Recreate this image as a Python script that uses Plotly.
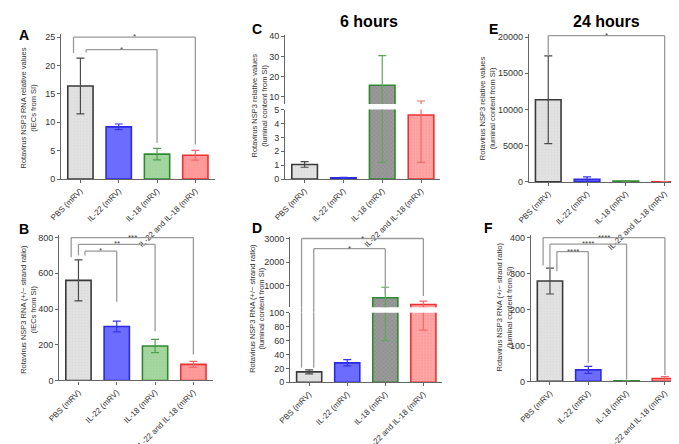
import plotly.graph_objects as go

# ---------------- data ----------------
categories = ["PBS (mRV)", "IL-22 (mRV)", "IL-18 (mRV)", "IL-22 and IL-18 (mRV)"]

a_mean = [16.4, 9.2, 4.4, 4.2]
a_err = [4.9, 0.5, 1.0, 0.85]
b_mean = [560, 302, 193, 90]
b_err = [115, 30, 37, 17]
c_mean = [1.05, 0.1, 15.8, 4.6]
c_err = [0.2, 0.03, 14.6, 3.4]
d_mean = [15, 28, 500, 215]
d_err = [3, 4.5, 440, 140]
e_mean = [11350, 350, 100, 20]
e_err = [6050, 350, 50, 15]
f_mean = [279, 32, 1.5, 8]
f_err = [36, 10, 0.8, 5.5]

a_ticks = [0, 5, 10, 15, 20, 25]
b_ticks = [0, 200, 400, 600, 800]
c_ticks_low = [0, 1, 2, 3, 4, 5]
c_ticks_high = [10, 20, 30, 40]
d_ticks_low = [0, 20, 40, 60, 80, 100]
d_ticks_high = [1000, 2000, 3000]
e_ticks = [0, 5000, 10000, 15000, 20000]
f_ticks = [0, 100, 200, 300, 400]

# significance brackets: (from, to, bracket height, from-end, to-end, label)
a_sig = [(0, 3, 25.0, 22.2, 6.1, "*"), (0, 2, 22.8, 22.3, 6.4, "*")]
b_sig = [(0, 3, 800, 690, 145, "***"), (0, 2, 762, 700, 275, "**"), (0, 1, 724, 700, 440, "*")]
d_sig = [(0, 3, 3000, 21, 570, "*"), (0, 2, 2570, 21, 660, "*")]
e_sig = [(0, 3, 20200, 17400, 200, "*")]
f_sig = [(0, 3, 400, 322, 18, "****"), (0, 2, 382, 310, 5, "****"), (0, 1, 361, 306, 52, "****")]

y_title_rel_iec = "Rotavirus NSP3 RNA relative values<br>(IECs from SI)"
y_title_ratio_iec = "Rotavirus NSP3 RNA (+/\u2212 strand ratio)<br>(IECs from SI)"
y_title_rel_lum = "Rotavirus NSP3 relative values<br>(luminal content from SI)"
y_title_ratio_lum = "Rotavirus NSP3 RNA (+/\u2212 strand ratio)<br>(luminal content from SI)"

# ---------------- styles ----------------
W, H = 679, 444
FONT = "Liberation Sans, Arial, sans-serif"


def fx(px):
    return px / W


def fy(py):
    return 1 - py / H


style_std = [
    dict(fill="#e3e3e3", fg="#cdcdcd", shape="+", border="#3a3a3a", err="#4a4a4a"),
    dict(fill="#6c6cff", fg="#6c6cff", shape="", border="#2a2ae0", err="#3535e5"),
    dict(fill="#a6d7a1", fg="#8fc88a", shape="+", border="#2f8a2f", err="#4f9f4f"),
    dict(fill="#ff9c9c", fg="#ff8a8a", shape="+", border="#ee3030", err="#f06a6a"),
]
style_6h = [
    style_std[0],
    style_std[1],
    dict(fill="#9a9a9a", fg="#747474", shape="x", border="#2f8a2f", err="#5aa85a"),
    dict(fill="#ff9c9c", fg="#ffc0c0", shape=".", border="#ee3030", err="#f06a6a"),
]

BAR_W = 0.66
traces = []


def add_bars(means, errs, xa, ya, styles):
    for i, cat in enumerate(categories):
        s = styles[i]
        traces.append(go.Bar(
            x=[i], y=[means[i]], width=BAR_W, xaxis=xa, yaxis=ya,
            marker=dict(color=s["fill"], line=dict(color=s["border"], width=1.6),
                        pattern=dict(shape=s["shape"], fgcolor=s["fg"], bgcolor=s["fill"],
                                     size=3, solidity=0.3)),
            error_y=dict(type="data", array=[errs[i]], visible=True, color=s["err"],
                         thickness=1.2, width=4),
            showlegend=False, hoverinfo="skip", name=cat,
        ))


add_bars(a_mean, a_err, "x", "y", style_std)
add_bars(b_mean, b_err, "x2", "y2", style_std)
add_bars(c_mean, c_err, "x3", "y3", style_6h)
add_bars(c_mean, c_err, "x3", "y4", style_6h)
add_bars(d_mean, d_err, "x4", "y5", style_6h)
add_bars(d_mean, d_err, "x4", "y6", style_6h)
add_bars(e_mean, e_err, "x5", "y7", style_std)
add_bars(f_mean, f_err, "x6", "y8", style_std)

fig = go.Figure(traces)

axis_common = dict(showline=True, linecolor="#666666", linewidth=1.2, ticks="outside",
                   ticklen=3, tickcolor="#666666", showgrid=False, zeroline=False,
                   tickfont=dict(family=FONT, size=9, color="#333333"))


def xaxis(dom, anchor):
    return dict(axis_common, domain=[fx(dom[0]), fx(dom[1])], anchor=anchor,
                range=[-0.5, 3.5], tickvals=list(range(len(categories))),
                ticktext=categories, tickangle=-45,
                tickfont=dict(family=FONT, size=8, color="#333333"))


def yaxis(dom, anchor, rng, ticks):
    return dict(axis_common, domain=[fy(dom[0]), fy(dom[1])], anchor=anchor,
                range=rng, tickvals=ticks, tickformat="d")


# panel geometry (pixels)
A_x, A_y = (42, 198), (179, 22.3)
B_x, B_y = (40, 196), (396, 239.1)
C_x, C_ylow, C_yhigh = (270, 428), (179, 104), (98.1, 23.9)
D_x, D_ylow, D_yhigh = (275, 430), (398, 323), (317, 241.5)
E_x, E_y = (518, 676), (182, 22.9)
F_x, F_y = (520, 676), (397, 238.9)

C_low_rng, C_high_rng = [0, 5], [6.5, 40.5]
D_low_rng, D_high_rng = [0, 100], [100, 3060]

fig.update_layout(
    width=W, height=H, autosize=False,
    margin=dict(l=0, r=0, t=0, b=0),
    paper_bgcolor="white", plot_bgcolor="white",
    barmode="overlay",
    font=dict(family=FONT),
    xaxis=xaxis(A_x, "y"),
    yaxis=yaxis(A_y, "x", [0, 25.6], a_ticks),
    xaxis2=xaxis(B_x, "y2"),
    yaxis2=yaxis(B_y, "x2", [0, 815], b_ticks),
    xaxis3=xaxis(C_x, "y3"),
    yaxis3=yaxis(C_ylow, "x3", C_low_rng, c_ticks_low),
    yaxis4=yaxis(C_yhigh, "x3", C_high_rng, c_ticks_high),
    xaxis4=xaxis(D_x, "y5"),
    yaxis5=yaxis(D_ylow, "x4", D_low_rng, d_ticks_low),
    yaxis6=yaxis(D_yhigh, "x4", D_high_rng, d_ticks_high),
    xaxis5=xaxis(E_x, "y7"),
    yaxis7=yaxis(E_y, "x5", [0, 20400], e_ticks),
    xaxis6=xaxis(F_x, "y8"),
    yaxis8=yaxis(F_y, "x6", [0, 408], f_ticks),
)

# ---------------- brackets ----------------
LINE = dict(color="#9a9a9a", width=1.3)
shapes = []
annos = []


def vseg(xa, x, y0, y1, ya_low, ya_high=None, low_max=None, gap=None):
    lo, hi = min(y0, y1), max(y0, y1)
    if ya_high is None or hi <= low_max:
        shapes.append(dict(type="line", xref=xa, yref=ya_low, x0=x, x1=x, y0=lo, y1=hi, line=LINE))
    elif lo >= low_max:
        shapes.append(dict(type="line", xref=xa, yref=ya_high, x0=x, x1=x, y0=lo, y1=hi, line=LINE))
    else:
        shapes.append(dict(type="line", xref=xa, yref=ya_low, x0=x, x1=x, y0=lo, y1=low_max, line=LINE))
        shapes.append(dict(type="line", xref=xa, yref="paper", x0=x, x1=x, y0=gap[0], y1=gap[1], line=LINE))
        shapes.append(dict(type="line", xref=xa, yref=ya_high, x0=x, x1=x, y0=low_max, y1=hi, line=LINE))


def add_sig(sig, offsets, xa, ya, ya_high=None, low_max=None, gap=None):
    for (i0, i1, ytop, yend0, yend1, lab), off in zip(sig, offsets):
        xl, xr = i0 + off, i1
        yref_top = ya if ya_high is None else ya_high
        shapes.append(dict(type="line", xref=xa, yref=yref_top, x0=xl, x1=xr, y0=ytop, y1=ytop, line=LINE))
        vseg(xa, xl, yend0, ytop, ya, ya_high, low_max, gap)
        vseg(xa, xr, yend1, ytop, ya, ya_high, low_max, gap)
        annos.append(dict(xref=xa, yref=yref_top, x=(xl + xr) / 2, y=ytop, text=lab,
                          showarrow=False, yanchor="bottom", yshift=-5, borderpad=0,
                          font=dict(family=FONT, size=8, color="#444444")))


add_sig(a_sig, [-0.18, 0.15], "x", "y")
add_sig(b_sig, [-0.19, 0.0, 0.17], "x2", "y2")
add_sig(d_sig, [-0.2, 0.12], "x4", "y5", "y6", D_low_rng[1], (fy(D_ylow[1]), fy(D_yhigh[0])))
add_sig(e_sig, [0.0], "x5", "y7")
add_sig(f_sig, [-0.18, 0.0, 0.18], "x6", "y8")

# ---------------- text ----------------
for letter, px, py in [("A", 4, 24), ("B", 4, 233), ("C", 241, 17),
                       ("D", 241, 232), ("E", 482, 17), ("F", 477, 232)]:
    annos.append(dict(xref="paper", yref="paper", x=fx(px), y=fy(py), text="<b>%s</b>" % letter,
                      showarrow=False, xanchor="center", yanchor="middle",
                      font=dict(family=FONT, size=14, color="black")))

for title, px in [("6 hours", 355), ("24 hours", 597)]:
    annos.append(dict(xref="paper", yref="paper", x=fx(px), y=fy(9), text="<b>%s</b>" % title,
                      showarrow=False, xanchor="center", yanchor="middle", borderpad=0,
                      font=dict(family=FONT, size=16, color="black")))

for title, px, py in [(y_title_rel_iec, 9, 102), (y_title_ratio_iec, 8, 319),
                      (y_title_rel_lum, 244, 100), (y_title_ratio_lum, 241, 318),
                      (y_title_rel_lum, 476, 103), (y_title_ratio_lum, 493, 317)]:
    annos.append(dict(xref="paper", yref="paper", x=fx(px), y=fy(py), text=title,
                      showarrow=False, xanchor="center", yanchor="middle", textangle=-90,
                      font=dict(family=FONT, size=7.5, color="#333333")))

fig.update_layout(shapes=shapes, annotations=annos)
fig.write_html("out.html")
